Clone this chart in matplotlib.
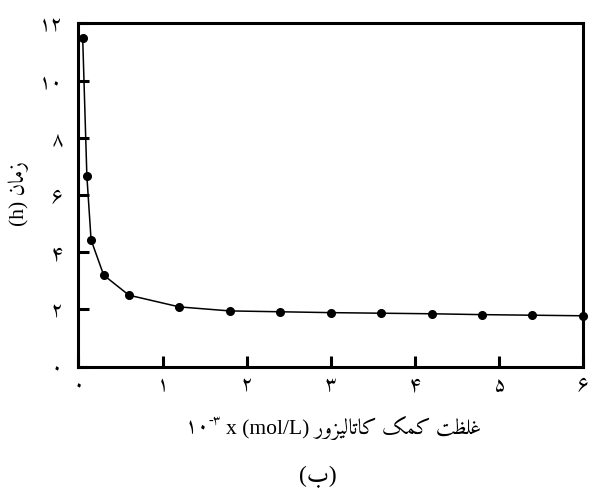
import matplotlib
matplotlib.use("Agg")
import matplotlib.pyplot as plt

# data
conc = [0.05, 0.1, 0.15, 0.3, 0.6, 1.2, 1.8, 2.4, 3.0, 3.6, 4.2, 4.8, 5.4, 6.0]
time_h = [11.5, 6.66, 4.43, 3.2, 2.5, 2.09, 1.95, 1.92, 1.89, 1.87, 1.85, 1.82, 1.80, 1.78]

fa_digits = "۰۱۲۳۴۵۶۷۸۹"
def fa(n):
    return "".join(fa_digits[int(c)] for c in str(n))

x_ticks = [0, 1, 2, 3, 4, 5, 6]
y_ticks = [0, 2, 4, 6, 8, 10, 12]

# Persian words written in shaped (presentation) forms, in visual left-to-right order,
# since matplotlib does no Arabic shaping / bidi
w_ghelzat = "\uFE96\uFEC8\uFEE0\uFECF"                                  # غلظت
w_komak = "\uFB8F\uFEE4\uFB90"                                          # کمک
w_catalyst = "\uFEAD\uFEED\uFEB0\uFEF4\uFEDF\uFE8E\uFE97\uFE8E\uFB90"   # کاتالیزور
w_zaman = "\uFEE5\uFE8E\uFEE3\uFEAF"                                    # زمان
w_be = "\uFE8F"                                                         # ب

xlabel_main = "x (mol/L) " + w_catalyst + " " + w_komak + " " + w_ghelzat
x_power = "-" + fa(3)
x_base = fa(10)
ylabel = "(h) " + w_zaman
caption = "(" + w_be + ")"

plt.rcParams['font.family'] = ['Liberation Serif', 'Amiri', 'DejaVu Sans']

fig = plt.figure(figsize=(5.9, 4.9), dpi=100)
ax = fig.add_axes([0.133, 0.2516, 0.855, 0.7008])

ax.plot(conc, time_h, color='black', lw=1.1, marker='o', ms=5.5, clip_on=False, zorder=3)

ax.set_xlim(0, 6)
ax.set_ylim(0, 12)
ax.set_xticks(x_ticks)
ax.set_xticklabels([fa(v) for v in x_ticks], fontsize=15)
ax.set_yticks(y_ticks)
ax.set_yticklabels([fa(v) for v in y_ticks], fontsize=15)
ax.tick_params(direction='in', length=8, width=2.2)
ax.tick_params(axis='x', pad=7)
ax.tick_params(axis='y', pad=11)
for s in ax.spines.values():
    s.set_linewidth(2.2)

# x label: main text, then superscript power and base placed to its left
main = fig.text(0.6, 0.127, xlabel_main, ha='center', va='center', fontsize=15.5)
sup = ax.annotate(x_power, xy=(0, 0.8), xycoords=main, xytext=(-3.5, 0),
                  textcoords='offset points', ha='right', va='center', fontsize=10)
ax.annotate(x_base, xy=(0, 0.5), xycoords=(sup, main), xytext=(1, 0),
            textcoords='offset points', ha='right', va='center', fontsize=15.5)

fig.text(0.032, 0.606, ylabel, ha='center', va='center', rotation=90, fontsize=15.5)
fig.text(0.539, 0.026, caption, ha='center', va='center', fontsize=17)

fig.savefig("out.png", dpi=100)
